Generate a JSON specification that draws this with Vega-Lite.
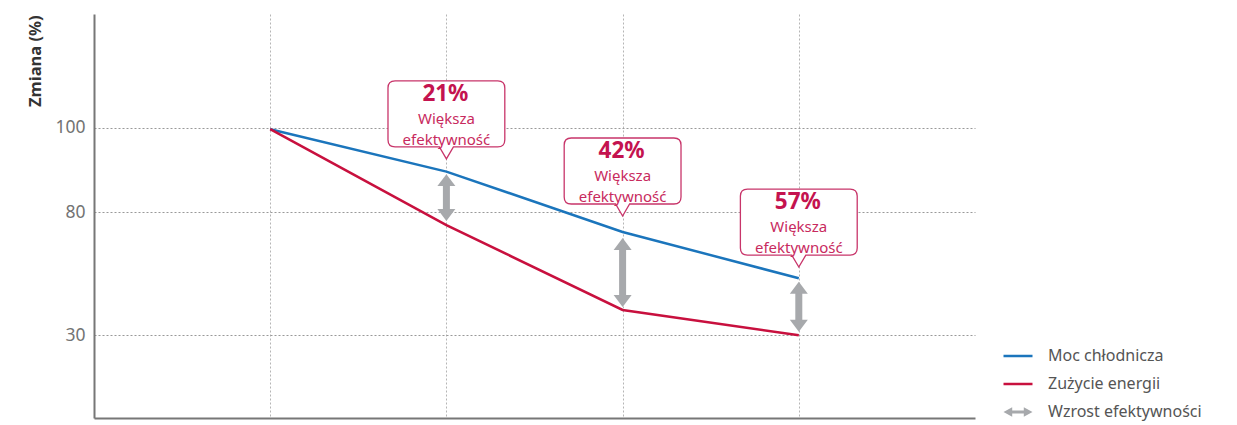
{
  "$schema": "https://vega.github.io/schema/vega-lite/v6.json",
  "width": 881,
  "height": 404,
  "autosize": {"type": "none"},
  "padding": {"left": 94, "top": 14, "right": 262, "bottom": 7},
  "background": "white",
  "config": {
    "view": {"stroke": null},
    "font": "Noto Sans"
  },
  "datasets": {
    "lines": [
      {"x": 1, "value": 99.6, "series": "Moc chłodnicza"},
      {"x": 2, "value": 89.6, "series": "Moc chłodnicza"},
      {"x": 3, "value": 72.0, "series": "Moc chłodnicza"},
      {"x": 4, "value": 53.1, "series": "Moc chłodnicza"},
      {"x": 1, "value": 99.6, "series": "Zużycie energii"},
      {"x": 2, "value": 74.8, "series": "Zużycie energii"},
      {"x": 3, "value": 40.2, "series": "Zużycie energii"},
      {"x": 4, "value": 29.9, "series": "Zużycie energii"}
    ],
    "arrows": [
      {"x": 2, "top": 89.0, "bottom": 76.5},
      {"x": 3, "top": 69.5, "bottom": 41.4},
      {"x": 4, "top": 51.7, "bottom": 31.3}
    ],
    "callouts": [
      {"x": 2, "tip": 92.6, "pct": "21%", "l1": "Większa", "l2": "efektywność"},
      {"x": 3, "tip": 78.5, "pct": "42%", "l1": "Większa", "l2": "efektywność"},
      {"x": 4, "tip": 57.7, "pct": "57%", "l1": "Większa", "l2": "efektywność"}
    ]
  },
  "encoding": {
    "x": {
      "field": "x",
      "type": "quantitative",
      "scale": {"domain": [0, 5], "nice": false, "zero": false},
      "axis": {
        "title": null,
        "values": [1, 2, 3, 4],
        "labels": false,
        "ticks": false,
        "grid": true,
        "gridColor": "#b5b5b5",
        "gridDash": [2, 2],
        "gridWidth": 1,
        "domainColor": "#777777",
        "domainWidth": 2
      }
    }
  },
  "layer": [
    {
      "data": {"name": "lines"},
      "mark": {"type": "line", "strokeWidth": 2.5},
      "encoding": {
        "y": {
          "field": "value",
          "type": "quantitative",
          "scale": {
            "domain": [0, 30, 80, 100, 130],
            "range": [404, 321, 198.3, 113.5, 0],
            "nice": false,
            "zero": false
          },
          "axis": {
            "title": "Zmiana (%)",
            "titleFontSize": 16.5,
            "titleFontWeight": "bold",
            "titleColor": "#333333",
            "titleAngle": -90,
            "titleAlign": "right",
            "titleBaseline": "alphabetic",
            "titleX": -54,
            "titleY": 1,
            "values": [30, 80, 100],
            "ticks": false,
            "labelPadding": 9,
            "labelFontSize": 17.5,
            "labelColor": "#737373",
            "grid": true,
            "gridColor": "#999999",
            "gridDash": [2, 2],
            "gridWidth": 1,
            "domainColor": "#777777",
            "domainWidth": 2
          }
        },
        "color": {
          "field": "series",
          "type": "nominal",
          "scale": {
            "domain": ["Moc chłodnicza", "Zużycie energii", "Wzrost efektywności"],
            "range": ["#1b75bc", "#c8103e", "#a7a9ac"]
          },
          "legend": {
            "title": null,
            "orient": "none",
            "legendX": 916,
            "legendY": 334,
            "padding": 0,
            "offset": 0,
            "symbolSize": 841,
            "symbolType": "stroke",
            "symbolStrokeWidth": 2.5,
            "symbolOffset": 0,
            "labelOffset": 22,
            "labelFontSize": 16,
            "labelColor": "#555555",
            "rowPadding": 12,
            "encode": {
              "symbols": {
                "update": {
                  "shape": {"signal": "datum.value === 'Wzrost efektywności' ? 'M-1,0L-0.4,-0.32L-0.4,-0.11L0.4,-0.11L0.4,-0.32L1,0L0.4,0.32L0.4,0.11L-0.4,0.11L-0.4,0.32Z' : 'stroke'"},
                  "fill": {"signal": "datum.value === 'Wzrost efektywności' ? '#a7a9ac' : 'transparent'"},
                  "strokeWidth": {"signal": "datum.value === 'Wzrost efektywności' ? 0 : 2.5"}
                }
              }
            }
          }
        }
      }
    },
    {
      "data": {"name": "arrows"},
      "mark": {"type": "rule", "color": "#a7a9ac", "strokeWidth": 7, "yOffset": 11, "y2Offset": -11, "strokeCap": "butt"},
      "encoding": {
        "y": {"field": "top", "type": "quantitative"},
        "y2": {"field": "bottom"}
      }
    },
    {
      "data": {"name": "arrows"},
      "mark": {"type": "point", "shape": "M0,0L1,1.33L-1,1.33Z", "size": 324, "filled": true, "color": "#a7a9ac", "opacity": 1, "strokeWidth": 0},
      "encoding": {
        "y": {"field": "top", "type": "quantitative"}
      }
    },
    {
      "data": {"name": "arrows"},
      "mark": {"type": "point", "shape": "M0,0L1,-1.33L-1,-1.33Z", "size": 324, "filled": true, "color": "#a7a9ac", "opacity": 1, "strokeWidth": 0},
      "encoding": {
        "y": {"field": "bottom", "type": "quantitative"}
      }
    },
    {
      "data": {"name": "callouts"},
      "mark": {
        "type": "point",
        "shape": "M0,0L-0.119,-0.203L-0.87,-0.203Q-0.99,-0.203,-0.99,-0.323L-0.99,-1.202Q-0.99,-1.322,-0.87,-1.322L0.87,-1.322Q0.99,-1.322,0.99,-1.202L0.99,-0.323Q0.99,-0.203,0.87,-0.203L0.119,-0.203Z",
        "size": 13924,
        "filled": true,
        "fill": "white",
        "stroke": "#c8356a",
        "strokeWidth": 1.3,
        "opacity": 1,
        "fillOpacity": 1,
        "strokeOpacity": 1
      },
      "encoding": {
        "y": {"field": "tip", "type": "quantitative"}
      }
    },
    {
      "data": {"name": "callouts"},
      "mark": {"type": "text", "fontSize": 22.5, "fontWeight": "bold", "color": "#c4134f", "baseline": "middle", "align": "center", "yOffset": -65, "dx": -1},
      "encoding": {
        "y": {"field": "tip", "type": "quantitative"},
        "text": {"field": "pct"}
      }
    },
    {
      "data": {"name": "callouts"},
      "mark": {"type": "text", "fontSize": 15, "color": "#c82a5e", "baseline": "middle", "align": "center", "yOffset": -40},
      "encoding": {
        "y": {"field": "tip", "type": "quantitative"},
        "text": {"field": "l1"}
      }
    },
    {
      "data": {"name": "callouts"},
      "mark": {"type": "text", "fontSize": 15, "color": "#c82a5e", "baseline": "middle", "align": "center", "yOffset": -19},
      "encoding": {
        "y": {"field": "tip", "type": "quantitative"},
        "text": {"field": "l2"}
      }
    }
  ]
}
